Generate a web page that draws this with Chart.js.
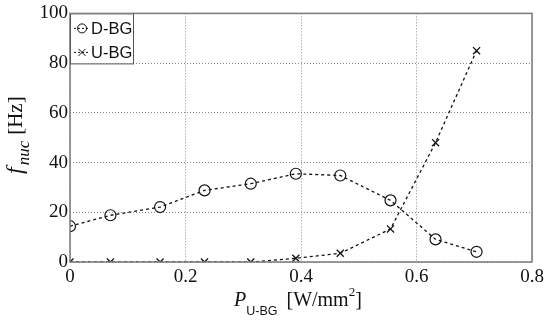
<!DOCTYPE html>
<html>
<head>
<meta charset="utf-8">
<script src="https://cdn.jsdelivr.net/npm/chart.js@4.4.0/dist/chart.umd.min.js"></script>
<style>
  html, body { margin: 0; padding: 0; background: #fff; }
  #wrap { width: 550px; height: 325px; }
</style>
</head>
<body>
<div id="wrap"><canvas id="chart" width="550" height="325"></canvas></div>
<script>
// values
const powerX = [0, 0.07, 0.156, 0.233, 0.313, 0.391, 0.468, 0.555, 0.633, 0.704];
const dbgValues = [14.4, 18.8, 22.1, 28.8, 31.5, 35.5, 34.8, 24.8, 9.1, 4.1];
const ubgValues = [0, 0, 0, 0, 0, 1.5, 3.5, 13.3, 48, 85];
const seriesNames = ['D-BG', 'U-BG'];
const xTicks = [0, 0.2, 0.4, 0.6, 0.8];
const yTicks = [0, 20, 40, 60, 80, 100];

const toPoints = (ys) => ys.map((y, i) => ({ x: powerX[i], y: y }));

const serif = '"Liberation Serif", "Times New Roman", serif';
const sans = '"Liberation Sans", Arial, sans-serif';

// frame, axis titles and the boxed legend
const decorations = {
  id: 'decorations',
  afterDraw(chart) {
    const ctx = chart.ctx;
    const a = chart.chartArea;
    ctx.save();

    // full box round the plot
    ctx.strokeStyle = '#7a7a7a';
    ctx.lineWidth = 1.5;
    ctx.strokeRect(a.left, a.top, a.right - a.left, a.bottom - a.top);

    // x axis title: P_U-BG [W/mm^2]
    ctx.fillStyle = '#111';
    ctx.textBaseline = 'alphabetic';
    ctx.textAlign = 'left';
    let x = 234, base = 306;
    ctx.font = 'italic 20px ' + serif;
    ctx.fillText('P', x, base);
    x += ctx.measureText('P').width;
    ctx.font = '12.5px ' + sans;
    ctx.fillText('U-BG', x, base + 9);
    x += ctx.measureText('U-BG').width + 9;
    ctx.font = '20px ' + serif;
    ctx.fillText('[W/mm', x, base);
    x += ctx.measureText('[W/mm').width;
    ctx.font = '13px ' + serif;
    ctx.fillText('2', x, base - 10);
    x += ctx.measureText('2').width;
    ctx.font = '20px ' + serif;
    ctx.fillText(']', x, base);

    // y axis title: f_nuc [Hz], rotated
    ctx.save();
    ctx.translate(22, 174);
    ctx.rotate(-Math.PI / 2);
    let t = 0;
    ctx.font = 'italic 24px ' + serif;
    ctx.fillText('f', t, 0);
    t += ctx.measureText('f').width + 2;
    ctx.font = 'italic 17px ' + serif;
    ctx.fillText('nuc', t, 7);
    t += ctx.measureText('nuc').width + 6;
    ctx.font = '21px ' + serif;
    ctx.fillText('[Hz]', t, 0);
    ctx.restore();

    // legend box in the upper left corner
    const lx = a.left, ly = a.top, lw = 63, lh = 50;
    ctx.fillStyle = '#fff';
    ctx.fillRect(lx, ly, lw, lh);
    ctx.strokeStyle = '#555';
    ctx.lineWidth = 1;
    ctx.strokeRect(lx + 0.5, ly + 0.5, lw, lh);
    ctx.font = '16.5px ' + sans;
    ctx.textBaseline = 'middle';
    chart.data.datasets.forEach((ds, i) => {
      const cy = ly + 15 + i * 24;
      ctx.strokeStyle = '#111';
      ctx.lineWidth = 1;
      ctx.setLineDash([2, 2]);
      ctx.beginPath();
      ctx.moveTo(lx + 4, cy);
      ctx.lineTo(lx + 20, cy);
      ctx.stroke();
      ctx.setLineDash([]);
      const mx = lx + 12;
      ctx.beginPath();
      if (ds.pointStyle === 'circle') {
        ctx.arc(mx, cy, 4.5, 0, Math.PI * 2);
      } else {
        ctx.moveTo(mx - 3.5, cy - 3.5); ctx.lineTo(mx + 3.5, cy + 3.5);
        ctx.moveTo(mx + 3.5, cy - 3.5); ctx.lineTo(mx - 3.5, cy + 3.5);
      }
      ctx.stroke();
      ctx.fillStyle = '#111';
      ctx.fillText(ds.label, lx + 21, cy + 1);
    });
    ctx.restore();
  }
};

new Chart(document.getElementById('chart'), {
  type: 'scatter',
  data: {
    datasets: [
      {
        label: seriesNames[0],
        data: toPoints(dbgValues),
        showLine: true,
        borderColor: '#111',
        borderWidth: 1.3,
        borderDash: [3, 3],
        pointStyle: 'circle',
        pointRadius: 5.5,
        pointBorderWidth: 1.2,
        pointBackgroundColor: 'rgba(0,0,0,0)',
        pointBorderColor: '#111'
      },
      {
        label: seriesNames[1],
        data: toPoints(ubgValues),
        showLine: true,
        borderColor: '#111',
        borderWidth: 1.3,
        borderDash: [3, 3],
        pointStyle: 'crossRot',
        pointRadius: 5,
        pointBorderWidth: 1.3,
        pointBorderColor: '#111'
      }
    ]
  },
  options: {
    responsive: false,
    animation: false,
    layout: { padding: { top: 12, right: 18, left: 0, bottom: 0 } },
    plugins: {
      legend: { display: false },
      tooltip: { enabled: false }
    },
    scales: {
      x: {
        type: 'linear',
        min: 0,
        max: 0.8,
        afterBuildTicks: (scale) => { scale.ticks = xTicks.map(v => ({ value: v })); },
        afterFit: (scale) => { scale.height = 63; },
        ticks: {
          color: '#111',
          padding: 4,
          font: { family: serif, size: 19 },
          callback: (v) => String(v)
        },
        grid: {
          color: '#8a8a8a',
          lineWidth: 1,
          drawTicks: false
        },
        border: { display: false, dash: [1, 2] }
      },
      y: {
        type: 'linear',
        min: 0,
        max: 100,
        afterBuildTicks: (scale) => { scale.ticks = yTicks.map(v => ({ value: v })); },
        afterFit: (scale) => { scale.width = 70; },
        ticks: {
          color: '#111',
          padding: 2,
          font: { family: serif, size: 19 }
        },
        grid: {
          color: '#8a8a8a',
          lineWidth: 1,
          drawTicks: false
        },
        border: { display: false, dash: [1, 2] }
      }
    }
  },
  plugins: [decorations]
});
</script>
</body>
</html>
